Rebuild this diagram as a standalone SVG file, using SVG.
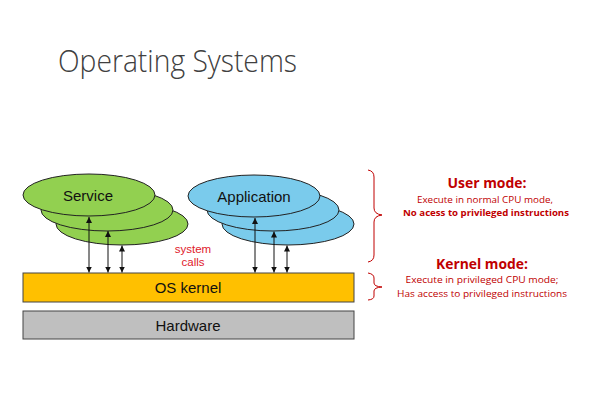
<svg xmlns="http://www.w3.org/2000/svg" width="592" height="410" viewBox="0 0 592 410">
<defs>
<style>
.lbl{font-family:"Liberation Sans",Arial,sans-serif;font-size:15px;fill:#111;text-anchor:middle}
.grn{fill:#92D050;stroke:#222;stroke-width:1}
.blu{fill:#7ACBEC;stroke:#222;stroke-width:1}
.red{font-family:"Open Sans","Liberation Sans",sans-serif;fill:#C00000;text-anchor:middle}
.brace{fill:none;stroke:#C00000;stroke-width:1}
.arr{stroke:#111;stroke-width:1;marker-start:url(#ah);marker-end:url(#ah)}
</style>
<marker id="ah" viewBox="0 0 8 8" refX="8" refY="4" markerWidth="6" markerHeight="6" orient="auto-start-reverse" markerUnits="userSpaceOnUse">
<path d="M0,0 L8,4 L0,8 z" fill="#111"/>
</marker>
</defs>
<rect width="592" height="410" fill="#fff"/>
<text x="58" y="72" font-family="'Open Sans','Liberation Sans',sans-serif" font-weight="300" font-size="31" fill="#404040" textLength="239" lengthAdjust="spacingAndGlyphs">Operating Systems</text>

<g id="service">
<ellipse class="grn" cx="122" cy="224" rx="66" ry="21"/>
<ellipse class="grn" cx="107" cy="210" rx="66" ry="21"/>
<ellipse class="grn" cx="89" cy="195" rx="66" ry="21"/>
<text class="lbl" x="88" y="201">Service</text>
</g>
<g id="application">
<ellipse class="blu" cx="288" cy="224" rx="66" ry="21"/>
<ellipse class="blu" cx="273" cy="210" rx="66" ry="21"/>
<ellipse class="blu" cx="254" cy="196" rx="66" ry="21"/>
<text class="lbl" x="254" y="202">Application</text>
</g>
<g id="kernel">
<rect x="23" y="273" width="331" height="29" fill="#FFC000" stroke="#444" stroke-width="1"/>
<text class="lbl" x="188" y="293">OS kernel</text>
</g>
<g id="hardware">
<rect x="23" y="311" width="331" height="28" fill="#BFBFBF" stroke="#444" stroke-width="1"/>
<text class="lbl" x="188" y="331">Hardware</text>
</g>

<g id="connectors">
<line class="arr" x1="89" y1="217" x2="89" y2="272.5"/>
<line class="arr" x1="108" y1="231" x2="108" y2="272.5"/>
<line class="arr" x1="122" y1="245.5" x2="122" y2="272.5"/>
<line class="arr" x1="255" y1="218" x2="255" y2="272.5"/>
<line class="arr" x1="274" y1="231.5" x2="274" y2="272.5"/>
<line class="arr" x1="287" y1="245.5" x2="287" y2="272.5"/>
</g>

<g id="syscalls">
<text x="193" y="253" font-family="'Liberation Sans',Arial,sans-serif" font-size="11.5" fill="#E0202A" text-anchor="middle">system</text>
<text x="193" y="266" font-family="'Liberation Sans',Arial,sans-serif" font-size="11.5" fill="#E0202A" text-anchor="middle">calls</text>
</g>

<g id="braces">
<path class="brace" d="M368,170 Q374,171 374,177 L374,208 Q374,214 382,215 Q374,216 374,222 L374,255 Q374,261 368,262"/>
<path class="brace" d="M368,273 Q374,274 374,278 L374,283 Q374,286.5 382,287 Q374,287.5 374,291 L374,296 Q374,299.5 368,300"/>
</g>

<g id="usermode">
<text class="red" x="487" y="188" font-size="15" font-weight="bold" textLength="79" lengthAdjust="spacingAndGlyphs">User mode:</text>
<text class="red" x="485" y="203" font-size="9.5" textLength="136" lengthAdjust="spacingAndGlyphs">Execute in normal CPU mode,</text>
<text class="red" x="486" y="216" font-size="9.5" font-weight="bold" textLength="166" lengthAdjust="spacingAndGlyphs">No acess to privileged instructions</text>
</g>
<g id="kernelmode">
<text class="red" x="482" y="269" font-size="15" font-weight="bold" textLength="92" lengthAdjust="spacingAndGlyphs">Kernel mode:</text>
<text class="red" x="482" y="283" font-size="9.5" textLength="153" lengthAdjust="spacingAndGlyphs">Execute in privileged CPU mode;</text>
<text class="red" x="482" y="297" font-size="9.5" textLength="170" lengthAdjust="spacingAndGlyphs">Has access to privileged instructions</text>
</g>
</svg>
